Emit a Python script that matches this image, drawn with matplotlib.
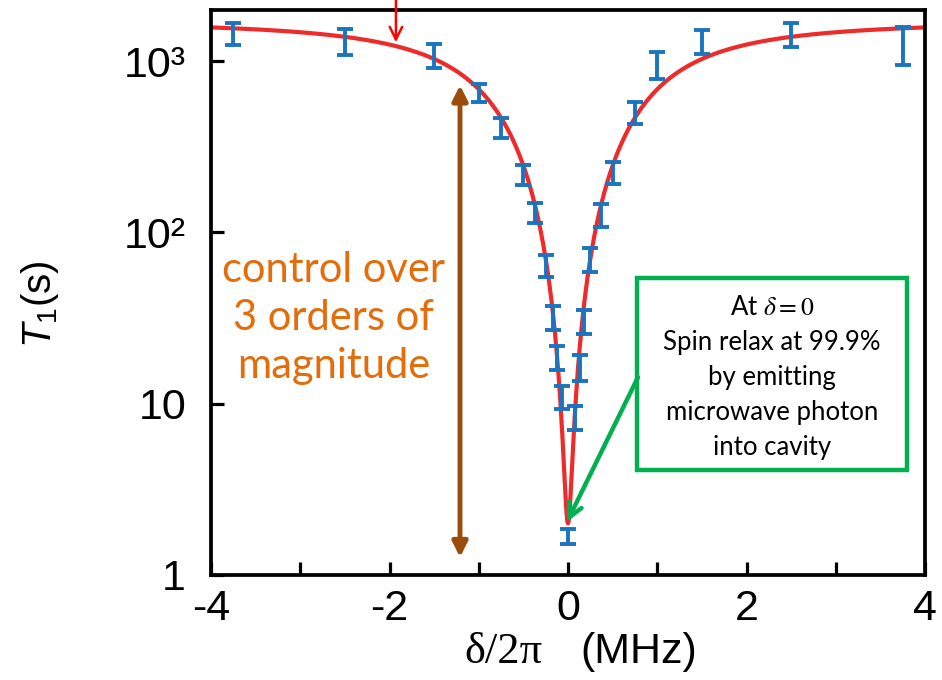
import numpy as np
import matplotlib
matplotlib.use("Agg")
import matplotlib.pyplot as plt
from matplotlib.ticker import FixedLocator, FixedFormatter, FuncFormatter, NullLocator
from matplotlib.patches import Rectangle

plt.rcParams['axes.unicode_minus'] = False
SANS = ['Liberation Sans', 'DejaVu Sans']
plt.rcParams['font.family'] = SANS
plt.rcParams['mathtext.fontset'] = 'custom'
plt.rcParams['mathtext.it'] = 'Liberation Sans:italic'
plt.rcParams['mathtext.rm'] = 'Liberation Sans'

# Measured T1 versus spin-cavity detuning
detuning = [-3.75, -2.5, -1.5, -1.0, -0.75, -0.5, -0.375, -0.25, -0.17, -0.125, -0.07,
            0.0, 0.08, 0.13, 0.18, 0.25, 0.375, 0.5, 0.75, 1.0, 1.5, 2.5, 3.75]
t1_values = [1439, 1292, 1071, 651, 407, 216, 130, 63.6, 31.6, 18.5, 10.9,
             1.67, 8.25, 16.2, 30.0, 69.0, 126, 222, 498, 948, 1292, 1419, 1225]
# relative (log-symmetric) uncertainty of each point
t1_rel_err = [0.16, 0.19, 0.18, 0.13, 0.14, 0.14, 0.14, 0.16, 0.18, 0.17, 0.17,
              0.106, 0.18, 0.19, 0.17, 0.18, 0.17, 0.16, 0.16, 0.20, 0.18, 0.18, 0.29]

# Purcell fit: 1/T1 = A / (w^2 + delta^2) + gamma_nr
fit_A = 8.8e-4         # s^-1 MHz^2
fit_w = 0.042          # MHz
fit_gamma_nr = 5.8e-4  # s^-1

x_ticks = [-4, -3, -2, -1, 0, 1, 2, 3, 4]
y_ticks = [1, 10, 100, 1000]
y_tick_labels = ['1', '10', '10²', '10³']

fig = plt.figure(figsize=(9.42, 6.8), dpi=100)
ax = fig.add_axes([211 / 942, 1 - 575 / 680, (925 - 211) / 942, (575 - 10) / 680])

# fit curve
d = np.linspace(-4, 4, 2001)
t_fit = 1.0 / (fit_A / (fit_w ** 2 + d ** 2) + fit_gamma_nr)
ax.plot(d, t_fit, color='#ee2b2b', lw=3.0, zorder=2)

# data with error bars
t = np.array(t1_values)
f = np.array(t1_rel_err)
yerr = np.vstack([t - t / (1 + f), t * f])
ax.errorbar(detuning, t1_values, yerr=yerr, fmt='none', ecolor='#1b74c0',
            elinewidth=2.8, capsize=5.5, capthick=2.8, zorder=3)

ax.set_yscale('log')
ax.set_xlim(-4, 4)
ax.set_ylim(1, 1990)

ax.xaxis.set_major_locator(FixedLocator(x_ticks))
ax.xaxis.set_major_formatter(FuncFormatter(
    lambda v, p: f"{int(round(v))}" if int(round(v)) % 2 == 0 else ""))
ax.yaxis.set_major_locator(FixedLocator(y_ticks))
ax.yaxis.set_major_formatter(FixedFormatter(y_tick_labels))
ax.yaxis.set_minor_locator(NullLocator())

for s in ax.spines.values():
    s.set_linewidth(2.7)
ax.tick_params(axis='both', direction='in', length=9.5, width=2.3, labelsize=31,
               top=False, right=False)
ax.tick_params(axis='y', pad=18)
ax.tick_params(axis='x', pad=10)

# axis labels
ax.text(-0.24, 0.48, r'$T_1$(s)', transform=ax.transAxes, rotation=90,
        ha='center', va='center', fontsize=29)
ax.text(0.410, -0.136, 'δ/2π', transform=ax.transAxes, ha='center', va='center',
        fontsize=32, family=['Liberation Serif', 'DejaVu Serif'])
ax.text(0.599, -0.136, '(MHz)', transform=ax.transAxes, ha='center', va='center',
        fontsize=31)

# span arrow and caption
ax.annotate('', xy=(-1.21, 1.27), xytext=(-1.21, 724),
            arrowprops=dict(arrowstyle='<|-|>,head_length=0.9,head_width=0.45',
                            color='#9a4b0d', lw=3.5, shrinkA=0, shrinkB=0))
ax.text(-2.63, 31.6, 'control over\n3 orders of\nmagnitude', ha='center', va='center',
        fontsize=30, color='#e46c0a', family=['Lato', 'DejaVu Sans'], linespacing=1.33)

# call-out box
ax.add_patch(Rectangle((0.597, 0.186), 0.378, 0.340, transform=ax.transAxes,
                       fill=True, facecolor='white', edgecolor='#00b050', lw=3.2, zorder=4))
ax.text(0.786, 0.350,
        'At $\\delta = 0$\nSpin relax at 99.9%\nby emitting\nmicrowave photon\ninto cavity',
        transform=ax.transAxes, ha='center', va='center', fontsize=18.5,
        family=['Lato', 'DejaVu Sans'], linespacing=1.5, math_fontfamily='stix', zorder=5)
ax.annotate('', xy=(0.4986, 0.094), xytext=(0.598, 0.350),
            xycoords='axes fraction', textcoords='axes fraction',
            arrowprops=dict(arrowstyle='->,head_length=1.0,head_width=0.5',
                            color='#00b050', lw=3.2, shrinkA=0, shrinkB=0), zorder=5)

# top marker arrow
ax.annotate('', xy=(0.259, 0.943), xytext=(0.259, 1.03),
            xycoords='axes fraction', textcoords='axes fraction',
            arrowprops=dict(arrowstyle='->,head_length=0.9,head_width=0.45',
                            color='#ff0000', lw=1.8, shrinkA=0, shrinkB=0),
            annotation_clip=False)

fig.savefig('out.png', dpi=100)
